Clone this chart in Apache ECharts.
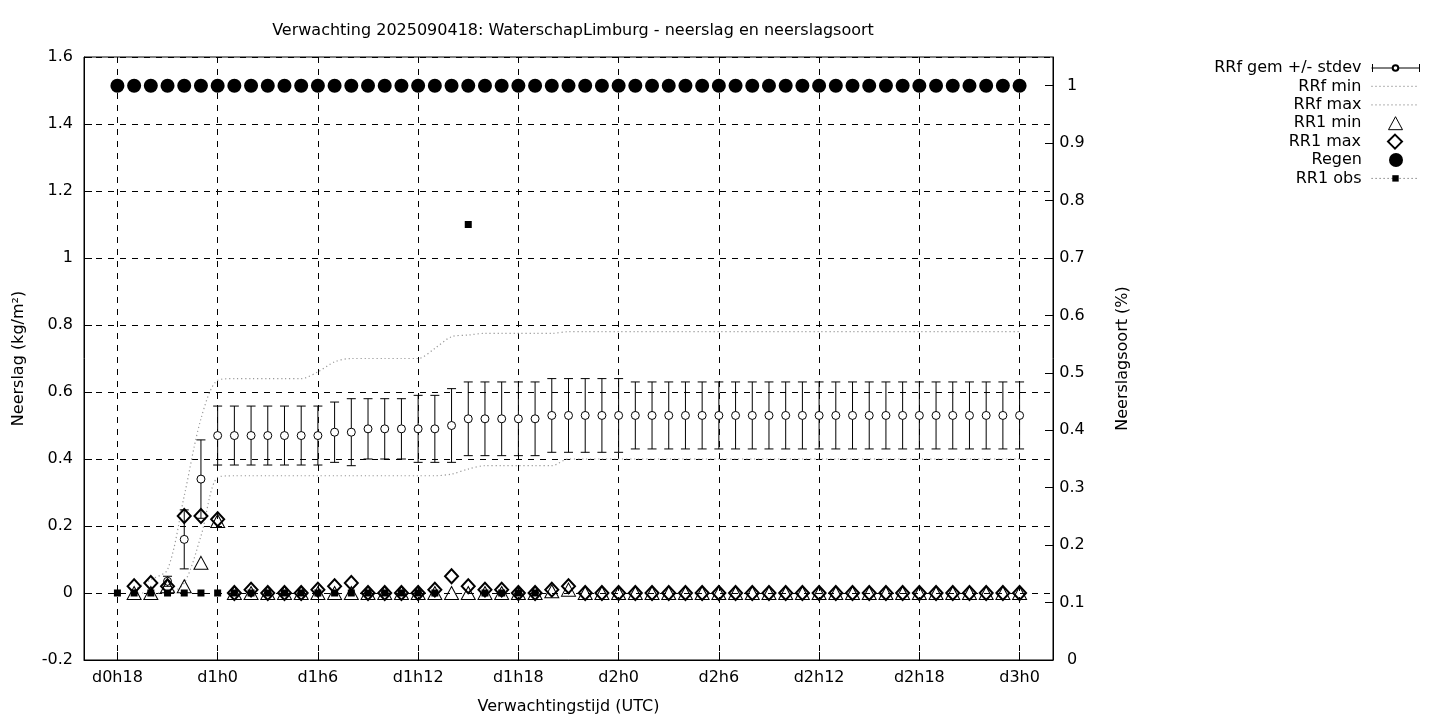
<!DOCTYPE html>
<html>
<head>
<meta charset="utf-8">
<script src="https://cdn.jsdelivr.net/npm/echarts@6/dist/echarts.min.js"></script>
<style>
html,body{margin:0;padding:0;background:#ffffff;}
#chart{width:1440px;height:720px;}
</style>
</head>
<body>
<div id="chart"></div>
<script>
// ---------------- DATA ----------------
// forecast hours (hours after d0h0), one point per hour
const hours = [18,19,20,21,22,23,24,25,26,27,28,29,30,31,32,33,34,35,36,37,38,39,40,41,42,43,44,45,46,47,48,49,50,51,52,53,54,55,56,57,58,59,60,61,62,63,64,65,66,67,68,69,70,71,72];
// hours spanned by the x axis (range 16..74)
const axisHours = [16,17,18,19,20,21,22,23,24,25,26,27,28,29,30,31,32,33,34,35,36,37,38,39,40,41,42,43,44,45,46,47,48,49,50,51,52,53,54,55,56,57,58,59,60,61,62,63,64,65,66,67,68,69,70,71,72,73,74];
const tickHours = [18,24,30,36,42,48,54,60,66,72];
const tickLabels = ['d0h18','d1h0','d1h6','d1h12','d1h18','d2h0','d2h6','d2h12','d2h18','d3h0'];

// RRf gemiddelde (mean) and standaardafwijking (stdev)
const rrfMean = [null,null,null,0.035,0.16,0.34,
  0.47,0.47,0.47,0.47,0.47,0.47,0.47,
  0.48,0.48,
  0.49,0.49,0.49,0.49,0.49,
  0.50,
  0.52,0.52,0.52,0.52,0.52,
  0.53,0.53,0.53,0.53,0.53,0.53,0.53,0.53,0.53,0.53,0.53,0.53,0.53,0.53,0.53,0.53,0.53,0.53,0.53,0.53,0.53,0.53,0.53,0.53,0.53,0.53,0.53,0.53,0.53];
const rrfStd = [null,null,null,0.015,0.088,0.117,
  0.088,0.088,0.088,0.088,0.088,0.088,0.088,
  0.09,0.10,
  0.09,0.09,0.09,0.10,0.10,
  0.11,
  0.11,0.11,0.11,0.11,0.11,
  0.11,0.11,0.11,0.11,0.11,
  0.10,0.10,0.10,0.10,0.10,0.10,0.10,0.10,0.10,0.10,0.10,0.10,0.10,0.10,0.10,0.10,0.10,0.10,0.10,0.10,0.10,0.10,0.10,0.10];
// RRf min / max (dotted lines)
const rrfMin = [null,0,0,0,0.03,0.17,0.345,
  0.35,0.35,0.35,0.35,0.35,0.35,0.35,0.35,0.35,0.35,0.35,0.35,0.35,
  0.355,0.37,
  0.38,0.38,0.38,0.38,0.38,
  0.40,0.40,0.40,0.40,0.40,0.40,0.40,0.40,0.40,0.40,0.40,0.40,0.40,0.40,0.40,0.40,0.40,0.40,0.40,0.40,0.40,0.40,0.40,0.40,0.40,0.40,0.40,0.40];
const rrfMax = [null,0.01,0.04,0.07,0.29,0.52,0.635,
  0.64,0.64,0.64,0.64,0.64,
  0.66,0.69,
  0.70,0.70,0.70,0.70,0.70,
  0.73,0.765,0.77,
  0.775,0.775,0.775,0.775,0.775,
  0.78,0.78,0.78,0.78,0.78,0.78,0.78,0.78,0.78,0.78,0.78,0.78,0.78,0.78,0.78,0.78,0.78,0.78,0.78,0.78,0.78,0.78,0.78,0.78,0.78,0.78,0.78,0.78];
// RR1 min (triangles) / RR1 max (diamonds)
const rr1Min = [null,0,0,0.02,0.02,0.09,0.215,
  0,0,0,0,0,0,0,0,0,0,0,0,0,0,0,0,0,0,0,
  0.005,0.01,
  0,0,0,0,0,0,0,0,0,0,0,0,0,0,0,0,0,0,0,0,0,0,0,0,0,0,0];
const rr1Max = [null,0.02,0.03,0.02,0.23,0.23,0.22,
  0,0.01,0,0,0,0.01,0.02,0.03,0,0,0,0,0.01,0.05,0.02,0.01,0.01,0,0,0.01,0.02,
  0,0,0,0,0,0,0,0,0,0,0,0,0,0,0,0,0,0,0,0,0,0,0,0,0,0,0];
// Regen (neerslagsoort, right axis)
const regen = [1,1,1,1,1,1,1,1,1,1,1,1,1,1,1,1,1,1,1,1,1,1,1,1,1,1,1,1,1,1,1,1,1,1,1,1,1,1,1,1,1,1,1,1,1,1,1,1,1,1,1,1,1,1,1];
// RR1 observations
const rr1Obs = [0,0,0,0,0,0,0,0,0,0,0,0,0,0,0,0,0,0,0,0,
  null,1.1,0,0,0,0,
  null,null,null,null,null,null,null,null,null,null,null,null,null,null,null,null,null,null,null,null,null,null,null,null,null,null,null,null,null];

const leftTicks = { min: -0.2, max: 1.6, interval: 0.2 };
const rightTicks = { min: 0, max: 1.05, interval: 0.1 };

// ---------------- CHART ----------------
const FONT = 'DejaVu Sans';
const FS = 16;
const pairs = arr => hours.map((h, i) => [String(h), arr[i]]);
const barData = hours.map((h, i) => rrfMean[i] == null ? [String(h), null, null]
  : [String(h), rrfMean[i] - rrfStd[i], rrfMean[i] + rrfStd[i]]);

const isTick = (idx, val) => tickHours.indexOf(Number(val)) >= 0;
const gridDash = { color: '#000', width: 1, type: [6, 6] };
const dotted = { color: '#999', width: 1.2, type: [1.2, 2.8] };

// legend rows (gnuplot style: right-aligned text, sample on the right)
const legendNames = ['RRf gem +/- stdev','RRf min','RRf max','RR1 min','RR1 max','Regen','RR1 obs'];
const legendCfg = {
  'RRf gem +/- stdev': { w: 48, h: 7, item: { lineStyle: { opacity: 1, color: '#000', width: 1, type: 'solid' } } },
  'RRf min': { w: 48, h: 14, item: { itemStyle: { opacity: 0 }, lineStyle: dotted } },
  'RRf max': { w: 48, h: 14, item: { itemStyle: { opacity: 0 }, lineStyle: dotted } },
  'RR1 min': { w: 14, h: 13, item: { itemStyle: { borderWidth: 1 } } },
  'RR1 max': { w: 14, h: 14, item: {} },
  'Regen': { w: 14, h: 14, item: {} },
  'RR1 obs': { w: 48, h: 8, item: { lineStyle: { opacity: 1, color: '#666', width: 1, type: [1.2, 2.8] } } }
};
const LEG_RIGHT = 20, LEG_W = 48, LEG_TOP = 60, LEG_STEP = 18.4;
const legends = legendNames.map((n, i) => {
  const c = legendCfg[n];
  const shift = (LEG_W - c.w) / 2;
  return {
    data: [Object.assign({ name: n }, c.item)],
    orient: 'vertical', align: 'right', padding: 0,
    right: LEG_RIGHT + shift, top: LEG_TOP + i * LEG_STEP,
    itemWidth: c.w, itemHeight: c.h,
    selectedMode: false,
    textStyle: { fontFamily: FONT, fontSize: FS, color: '#000', padding: [0, 5 + shift, 0, 0] }
  };
});
// error-bar caps on the first legend sample
const capX1 = 1440 - LEG_RIGHT - LEG_W + 0.5, capX2 = 1440 - LEG_RIGHT - 0.5;
const capY = LEG_TOP + 8;

const option = {
  animation: false,
  backgroundColor: '#fff',
  textStyle: { fontFamily: FONT },
  title: {
    text: 'Verwachting 2025090418: WaterschapLimburg - neerslag en neerslagsoort',
    left: 568, top: 18, textAlign: 'center',
    textStyle: { fontFamily: FONT, fontSize: FS, fontWeight: 'normal', color: '#000' }
  },
  legend: legends,
  graphic: [
    { type: 'line', shape: { x1: capX1, y1: capY - 4, x2: capX1, y2: capY + 4 }, style: { stroke: '#000', lineWidth: 1 } },
    { type: 'line', shape: { x1: capX2, y1: capY - 4, x2: capX2, y2: capY + 4 }, style: { stroke: '#000', lineWidth: 1 } }
  ],
  grid: { left: 84, right: 387, top: 57, bottom: 60, show: true, borderColor: '#000', borderWidth: 1, backgroundColor: 'transparent' },
  xAxis: {
    type: 'category', data: axisHours.map(String), boundaryGap: false,
    name: 'Verwachtingstijd (UTC)', nameLocation: 'middle', nameGap: 39,
    nameTextStyle: { fontFamily: FONT, fontSize: FS, color: '#000' },
    axisLine: { show: true, onZero: false, lineStyle: { color: '#000' } },
    axisTick: { show: true, inside: true, length: 8, interval: isTick, lineStyle: { color: '#000' } },
    axisLabel: { interval: isTick, margin: 10, fontFamily: FONT, fontSize: FS, color: '#000',
      formatter: v => { const k = tickHours.indexOf(Number(v)); return k >= 0 ? tickLabels[k] : ''; } },
    splitLine: { show: true, interval: isTick, lineStyle: gridDash }
  },
  yAxis: [
    {
      type: 'value', min: leftTicks.min, max: leftTicks.max, interval: leftTicks.interval,
      name: 'Neerslag (kg/m²)', nameLocation: 'middle', nameRotate: 90, nameGap: 57,
      nameTextStyle: { fontFamily: FONT, fontSize: FS, color: '#000' },
      axisLine: { show: true, onZero: false, lineStyle: { color: '#000' } },
      axisTick: { show: true, inside: true, length: 8, lineStyle: { color: '#000' } },
      axisLabel: { margin: 11, fontFamily: FONT, fontSize: FS, color: '#000' },
      splitLine: { show: true, lineStyle: gridDash }
    },
    {
      type: 'value', position: 'right', min: rightTicks.min, max: rightTicks.max, interval: rightTicks.interval,
      name: 'Neerslagsoort (%)', nameLocation: 'middle', nameRotate: 90, nameGap: 62,
      nameTextStyle: { fontFamily: FONT, fontSize: FS, color: '#000' },
      axisLine: { show: true, onZero: false, lineStyle: { color: '#000' } },
      axisTick: { show: true, inside: true, length: 8, lineStyle: { color: '#000' } },
      axisLabel: { margin: 19, align: 'center', fontFamily: FONT, fontSize: FS, color: '#000', showMaxLabel: false,
        formatter: v => (Math.abs(v * 10 - Math.round(v * 10)) < 1e-6 ? String(+v.toFixed(1)) : '') },
      splitLine: { show: false }
    }
  ],
  series: [
    {
      type: 'custom', name: 'stdev bars', xAxisIndex: 0, yAxisIndex: 0,
      data: barData, encode: { x: 0, y: [1, 2] }, z: 3,
      renderItem: (params, api) => {
        if (api.value(1) == null || isNaN(api.value(1))) return null;
        const x = api.value(0);
        const lo = api.coord([x, api.value(1)]);
        const hi = api.coord([x, api.value(2)]);
        const w = 4.5;
        const st = { stroke: '#000', lineWidth: 1 };
        return { type: 'group', children: [
          { type: 'line', shape: { x1: lo[0], y1: lo[1], x2: hi[0], y2: hi[1] }, style: st },
          { type: 'line', shape: { x1: lo[0] - w, y1: lo[1], x2: lo[0] + w, y2: lo[1] }, style: st },
          { type: 'line', shape: { x1: hi[0] - w, y1: hi[1], x2: hi[0] + w, y2: hi[1] }, style: st }
        ]};
      }
    },
    {
      type: 'line', name: 'RRf gem +/- stdev', data: pairs(rrfMean), z: 4,
      symbol: 'circle', symbolSize: 8, showAllSymbol: true, connectNulls: false,
      itemStyle: { color: '#fff', borderColor: '#000', borderWidth: 1, opacity: 1 },
      lineStyle: { opacity: 0, width: 0 }
    },
    {
      type: 'line', name: 'RRf min', data: pairs(rrfMin), z: 2, smooth: 0.3,
      symbol: 'none', lineStyle: dotted, itemStyle: { color: '#999' }
    },
    {
      type: 'line', name: 'RRf max', data: pairs(rrfMax), z: 2, smooth: 0.3,
      symbol: 'none', lineStyle: dotted, itemStyle: { color: '#999' }
    },
    {
      type: 'scatter', name: 'RR1 min', data: pairs(rr1Min), z: 5,
      symbol: 'triangle', symbolSize: [14, 13],
      itemStyle: { color: 'rgba(255,255,255,0)', borderColor: '#000', borderWidth: 1, opacity: 1 }
    },
    {
      type: 'scatter', name: 'RR1 max', data: pairs(rr1Max), z: 6,
      symbol: 'diamond', symbolSize: [13, 14],
      itemStyle: { color: 'rgba(255,255,255,0)', borderColor: '#000', borderWidth: 2, opacity: 1 }
    },
    {
      type: 'scatter', name: 'Regen', yAxisIndex: 1, data: pairs(regen), z: 7,
      symbol: 'circle', symbolSize: 14, itemStyle: { color: '#000', opacity: 1 }
    },
    {
      type: 'line', name: 'RR1 obs', data: pairs(rr1Obs), z: 8,
      symbol: 'rect', symbolSize: 7, showAllSymbol: true, connectNulls: false,
      itemStyle: { color: '#000', opacity: 1 },
      lineStyle: { opacity: 0, width: 0 }
    }
  ]
};

const chart = echarts.init(document.getElementById('chart'), null, { renderer: 'canvas' });
chart.setOption(option);
</script>
</body>
</html>
